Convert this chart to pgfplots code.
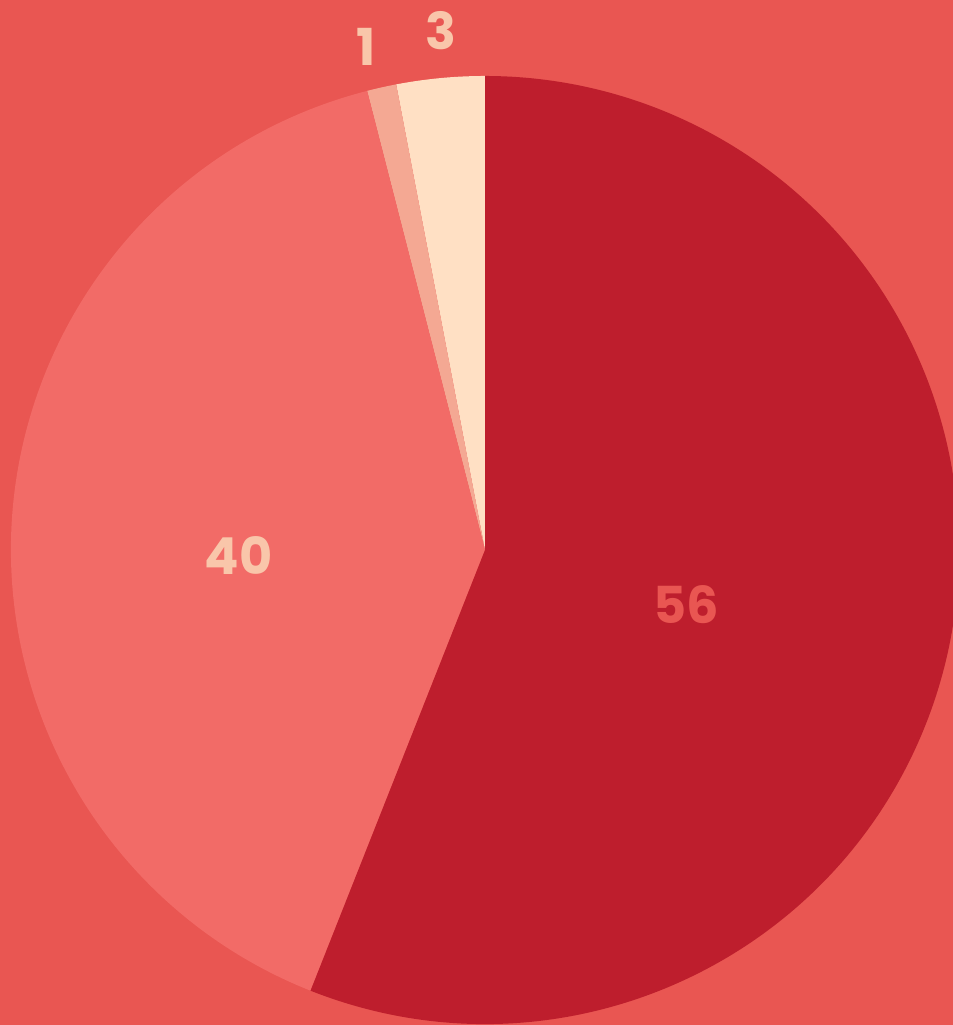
\documentclass[border=0pt]{standalone}
\usepackage{pgfplots}
\pgfplotsset{compat=1.18}
\usepackage{pgfplotstable}
\usetikzlibrary{calc}
\usepackage{fontspec}
\setmainfont{Poppins}

\definecolor{bgred}{HTML}{E95652}
\definecolor{slicecolor0}{HTML}{FFE0C4}
\definecolor{slicecolor1}{HTML}{F4A893}
\definecolor{slicecolor2}{HTML}{F26B67}
\definecolor{slicecolor3}{HTML}{BE1E2D}
\definecolor{labpeach}{HTML}{F9C6AA}

% slices counter-clockwise from 12 o'clock
% lr = label radius (fraction of R), dl = label angle shift
\pgfplotstableread{
value lr   dl   tc
3     1.10 -0.5 labpeach
1     1.09  0.7 labpeach
40    0.52  5.0 labpeach
56    0.44 -4.4 bgred
}\piedata

\pgfplotstablegetrowsof{\piedata}
\pgfmathtruncatemacro{\nslices}{\pgfplotsretval-1}
\def\pietotal{0}
\foreach \i in {0,...,\nslices}{
  \pgfplotstablegetelem{\i}{value}\of\piedata
  \pgfmathsetmacro{\pietmp}{\pietotal+\pgfplotsretval}
  \global\let\pietotal\pietmp
}
\def\piecum{0}
\foreach \i in {0,...,\nslices}{
  \pgfplotstablegetelem{\i}{value}\of\piedata
  \let\pieval\pgfplotsretval
  \pgfmathsetmacro{\piestart}{90+360/\pietotal*\piecum}
  \pgfmathsetmacro{\pieend}{90+360/\pietotal*(\piecum+\pieval)}
  \pgfplotstablegetelem{\i}{lr}\of\piedata \let\pielr\pgfplotsretval
  \pgfplotstablegetelem{\i}{dl}\of\piedata \let\piedl\pgfplotsretval
  \pgfmathsetmacro{\piemid}{(\piestart+\pieend)/2+\piedl}
  \expandafter\xdef\csname pieS\i\endcsname{\piestart}
  \expandafter\xdef\csname pieE\i\endcsname{\pieend}
  \expandafter\xdef\csname pieM\i\endcsname{\piemid}
  \expandafter\xdef\csname pieL\i\endcsname{\pielr}
  \expandafter\xdef\csname pieV\i\endcsname{\pieval}
  \pgfplotstablegetelem{\i}{tc}\of\piedata
  \expandafter\xdef\csname pieT\i\endcsname{\pgfplotsretval}
  \pgfmathsetmacro{\pietmp}{\piecum+\pieval}
  \global\let\piecum\pietmp
}

\def\pieR{474}

\begin{document}
\begin{tikzpicture}
\begin{axis}[
  hide axis, scale only axis,
  width=9.53cm, height=10.25cm,
  xmin=-485, xmax=468, ymin=-475, ymax=550,
  clip=false,
]
\fill[bgred] (rel axis cs:0,0) rectangle (rel axis cs:1,1);
\pgfplotsinvokeforeach{0,...,\nslices}{
  \fill[slicecolor#1] let \p1=(axis cs:0,0), \p2=(axis cs:\pieR,0),
    \n1={\x2-\x1} in
    (\p1) -- ++(\csname pieS#1\endcsname:\n1)
    arc[start angle=\csname pieS#1\endcsname,
        end angle=\csname pieE#1\endcsname, radius=\n1] -- cycle;
  \node[font=\fontsize{14.5}{16}\selectfont\bfseries,
        text=\csname pieT#1\endcsname, inner sep=0pt]
    at (axis cs:{\csname pieL#1\endcsname*\pieR*cos(\csname pieM#1\endcsname)},
                {\csname pieL#1\endcsname*\pieR*sin(\csname pieM#1\endcsname)})
    {\csname pieV#1\endcsname};
}
\end{axis}
\pgfresetboundingbox
\useasboundingbox (current axis.south west) rectangle (current axis.north east);
\end{tikzpicture}
\end{document}
